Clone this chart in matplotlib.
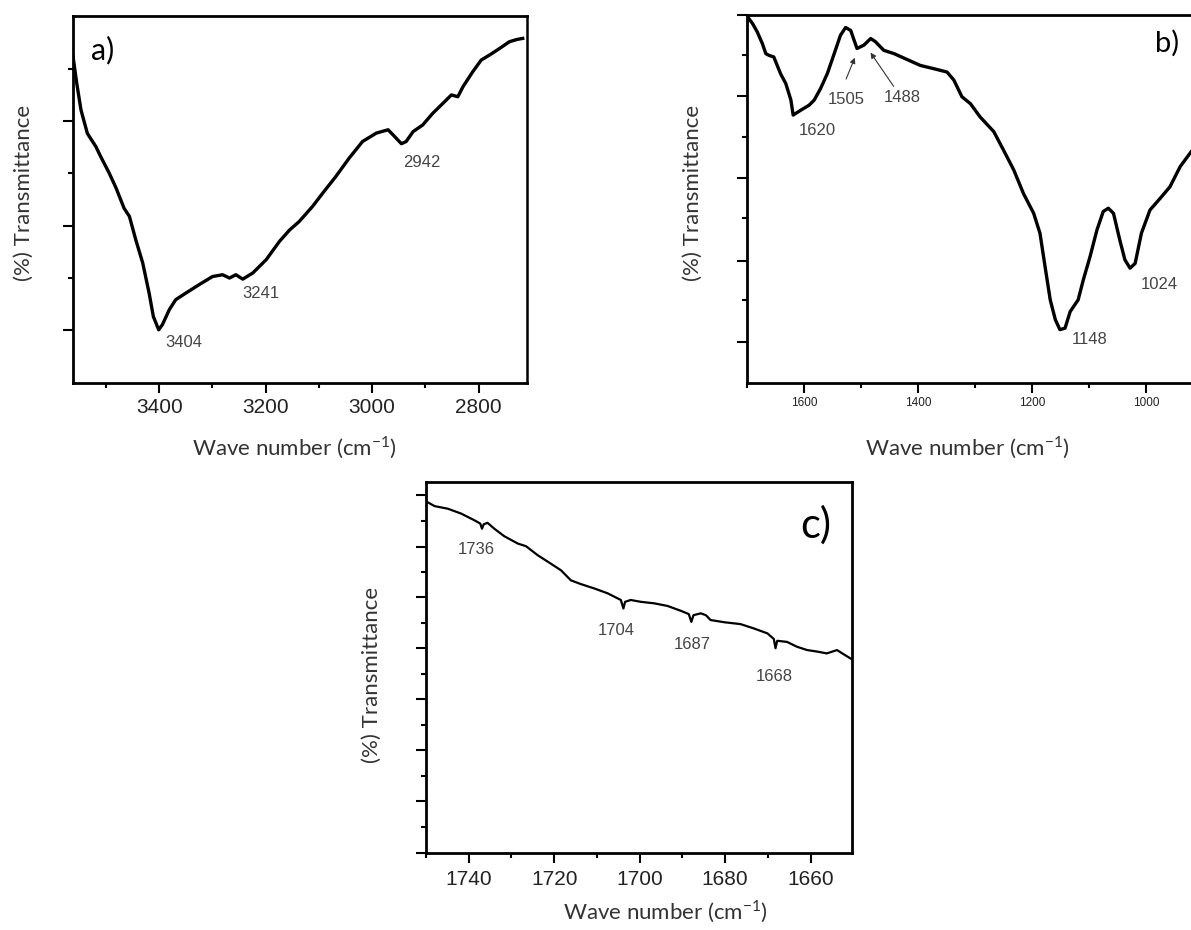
#!/usr/bin/env python3
import matplotlib
matplotlib.use("Agg")
import matplotlib.pyplot as plt

# panel a: 3600-2700 region
wn_a = [3562, 3555, 3547, 3535, 3519, 3510, 3494, 3481, 3466, 3456, 3444, 3431, 3419, 3411,
        3401, 3394, 3381, 3369, 3350, 3325, 3300, 3281, 3268, 3256, 3243, 3224, 3199, 3174,
        3155, 3137, 3112, 3093, 3068, 3043, 3018, 2992, 2970, 2958, 2945, 2936, 2923, 2905,
        2886, 2867, 2851, 2839, 2829, 2811, 2795, 2779, 2760, 2742, 2728, 2717]
tr_a = [89.0, 81.7, 74.4, 68.0, 64.4, 61.7, 57.2, 53.1, 47.6, 45.4, 39.0, 32.7, 24.5, 18.1,
        14.5, 15.9, 20.0, 22.7, 24.5, 26.8, 29.0, 29.5, 28.6, 29.5, 28.3, 30.0, 33.6, 38.6,
        41.7, 44.0, 48.1, 51.7, 56.3, 61.3, 65.8, 68.1, 69.0, 67.2, 65.2, 65.8, 68.5, 70.3,
        73.5, 76.2, 78.5, 78.0, 80.8, 84.8, 88.0, 89.4, 91.2, 93.0, 93.6, 93.9]
peaks_a = ["3404", "3241", "2942"]

# panel b: 1700-920 region
wn_b = [1699, 1690, 1682, 1673, 1667, 1661, 1653, 1641, 1632, 1623, 1619, 1606, 1591, 1582,
        1571, 1559, 1547, 1536, 1527, 1518, 1512, 1507, 1495, 1483, 1475, 1460, 1442, 1419,
        1396, 1372, 1349, 1337, 1323, 1308, 1291, 1267, 1250, 1232, 1215, 1197, 1186, 1177,
        1168, 1159, 1151, 1142, 1133, 1119, 1110, 1098, 1086, 1075, 1066, 1057, 1046, 1037,
        1028, 1019, 1008, 993, 975, 958, 940, 921]
tr_b = [99.5, 97.6, 95.4, 92.2, 89.5, 89.0, 88.6, 84.0, 81.4, 76.9, 72.8, 74.1, 75.5, 76.9,
        80.0, 84.1, 89.5, 94.5, 96.6, 95.8, 93.1, 90.9, 91.8, 93.6, 92.8, 90.4, 89.5, 87.9,
        86.3, 85.4, 84.5, 82.3, 77.8, 75.9, 72.3, 68.3, 63.3, 57.9, 51.5, 46.1, 40.7, 31.6,
        22.6, 17.2, 14.5, 14.9, 19.4, 22.6, 28.0, 34.4, 41.6, 46.6, 47.5, 46.1, 38.9, 33.5,
        31.2, 32.5, 40.7, 47.0, 50.2, 53.3, 58.8, 62.8]
peaks_b = ["1620", "1505", "1488", "1148", "1024"]

# panel c: 1750-1650 region
wn_c = [1749.7, 1748.0, 1744.9, 1741.8, 1738.7, 1737.3, 1736.9, 1736.5, 1735.6, 1734.0,
        1731.7, 1728.5, 1726.6, 1723.9, 1720.8, 1718.4, 1716.1, 1713.8, 1710.6, 1707.5,
        1704.4, 1703.8, 1703.4, 1702.1, 1699.7, 1696.6, 1693.5, 1690.4, 1688.5, 1687.9,
        1687.4, 1685.7, 1684.5, 1683.4, 1680.2, 1676.4, 1673.2, 1670.1, 1668.6, 1668.2,
        1667.8, 1665.5, 1663.2, 1660.8, 1658.5, 1656.2, 1653.8, 1652.3, 1650.3]
tr_c = [94.6, 93.5, 92.8, 91.5, 89.7, 88.8, 87.4, 88.6, 89.0, 87.4,
        85.4, 83.4, 82.7, 80.3, 78.0, 76.2, 73.5, 72.5, 71.3, 70.0,
        68.2, 65.9, 67.7, 68.2, 67.7, 67.3, 66.6, 65.3, 64.4, 62.3,
        64.1, 64.6, 64.1, 62.8, 62.2, 61.7, 60.5, 59.2, 57.7, 55.2,
        57.2, 56.9, 55.6, 54.7, 54.3, 53.8, 54.7, 53.6, 52.2]
peaks_c = ["1736", "1704", "1687", "1668"]

W, H = 1191, 930
LABEL_FONT = ["Lato", "DejaVu Sans"]
NUM_FONT = ["Liberation Sans", "DejaVu Sans"]


def rect(left, top, right, bottom):
    return [left / W, 1 - bottom / H, (right - left) / W, (bottom - top) / H]


def fig_text(fig, x, y, s, **kw):
    fig.text(x / W, 1 - y / H, s, ha="center", va="center", **kw)


def style_axes(ax, xmajor, xminor, ymajor, yminor, lw, tick_size, major_len, pad):
    ax.set_xticks(xmajor)
    ax.set_xticks(xminor, minor=True)
    ax.set_yticks(ymajor)
    ax.set_yticks(yminor, minor=True)
    ax.set_yticklabels([])
    for sp in ax.spines.values():
        sp.set_linewidth(lw)
    ax.tick_params(which="both", direction="out", width=1.5, colors="black")
    ax.tick_params(which="major", length=major_len, pad=pad)
    ax.tick_params(which="minor", length=major_len / 2)
    for lab in ax.get_xticklabels():
        lab.set_fontfamily(NUM_FONT)
        lab.set_fontsize(tick_size)
        lab.set_color("#222222")


fig = plt.figure(figsize=(W / 100, H / 100), dpi=100)

# ---- a)
ax = fig.add_axes(rect(73, 16, 527, 383))
ax.plot(wn_a, tr_a, color="black", lw=2.4)
ax.set_xlim(3562, 2709)
ax.set_ylim(0, 100)
style_axes(ax, [3400, 3200, 3000, 2800], [3500, 3300, 3100, 2900],
           [71.3, 42.8, 14.4], [85.6, 57.1, 28.6], 2.0, 15, 7, 4)
ax.spines["right"].set_linewidth(1.8)
for s, (x, y) in zip(peaks_a, [(3353, 10.9), (3209, 24.5), (2906, 60.0)]):
    ax.text(x, y, s, ha="center", va="center", fontsize=12, color="#444444", family=NUM_FONT)
ax.text(3507, 90.7, "a)", ha="center", va="center", fontsize=22, family=LABEL_FONT)

# ---- b)
ax = fig.add_axes(rect(747, 15, 1191, 383))
ax.plot(wn_b, tr_b, color="black", lw=2.4)
ax.set_xlim(1699, 921)
ax.set_ylim(0, 100)
style_axes(ax, [1600, 1400, 1200, 1000], [1700, 1500, 1300, 1100],
           [100, 77.9, 55.7, 33.1, 11.1], [89.1, 66.8, 44.8, 22.5], 2.0, 8.5, 7, 3)
ax.spines["right"].set_visible(False)
for s, (x, y) in zip(peaks_b, [(1577, 68.7), (1526, 77.1), (1428, 77.5), (1099, 11.8), (977, 26.7)]):
    ax.text(x, y, s, ha="center", va="center", fontsize=12, color="#444444", family=NUM_FONT)
ax.annotate("", xy=(1509, 89.1), xytext=(1528, 81.9),
            arrowprops=dict(arrowstyle="-|>", color="#333333", lw=0.8, mutation_scale=8))
ax.annotate("", xy=(1486, 90.4), xytext=(1440, 80.0),
            arrowprops=dict(arrowstyle="-|>", color="#333333", lw=0.8, mutation_scale=8))
ax.text(963, 92.2, "b)", ha="center", va="center", fontsize=21, family=LABEL_FONT)

# ---- c)
ax = fig.add_axes(rect(426, 482, 852, 853))
ax.plot(wn_c, tr_c, color="black", lw=1.6)
ax.set_xlim(1749.7, 1650.3)
ax.set_ylim(0, 100)
style_axes(ax, [1740, 1720, 1700, 1680, 1660], [1750, 1730, 1710, 1690, 1670],
           [96.4, 82.6, 68.9, 55.2, 41.4, 27.7, 13.9, 0.0],
           [89.5, 75.8, 62.0, 48.3, 34.6, 20.8, 7.0], 2.0, 15, 7, 5)
for s, (x, y) in zip(peaks_c, [(1738.3, 81.8), (1705.5, 60.1), (1687.8, 56.1), (1668.4, 47.5)]):
    ax.text(x, y, s, ha="center", va="center", fontsize=12, color="#444444", family=NUM_FONT)
ax.text(1658.8, 88.3, "c)", ha="center", va="center", fontsize=30, family=LABEL_FONT)

# axis titles
ylab = "(%) Transmittance"
xlab = r"Wave number (cm$^{\mathregular{-1}}$)"
kw = dict(fontsize=16, color="#333333", family=LABEL_FONT)
fig_text(fig, 24, 193, ylab, rotation=90, **kw)
fig_text(fig, 693, 193, ylab, rotation=90, **kw)
fig_text(fig, 372, 675, ylab, rotation=90, **kw)
fig_text(fig, 294, 448, xlab, **kw)
fig_text(fig, 967, 448, xlab, **kw)
fig_text(fig, 665, 912, xlab, **kw)

fig.savefig("out.png", dpi=100)
